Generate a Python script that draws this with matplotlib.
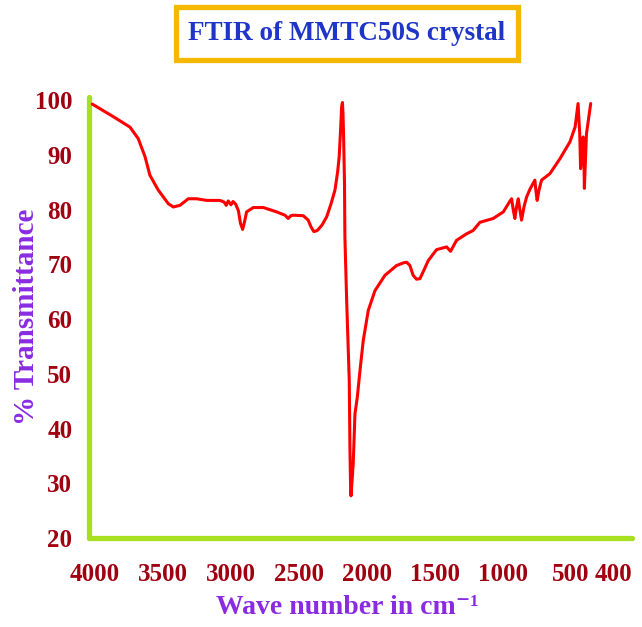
import numpy as np
import matplotlib
matplotlib.use("Agg")
import matplotlib.pyplot as plt
from matplotlib.scale import FuncScale
from matplotlib.patches import Rectangle

# ---- data ----
wavenumber = [4020, 3865, 3743, 3682, 3632, 3596, 3535, 3461, 3424, 3375, 3314, 3252,
              3179, 3081, 3050, 3035, 3020, 3000, 2985, 2965, 2945, 2930, 2914, 2900,
              2885, 2836, 2762, 2664, 2603, 2579, 2560, 2542, 2468, 2432, 2410, 2390,
              2365, 2330, 2296, 2265, 2235, 2215, 2204, 2193, 2186, 2180, 2176, 2172,
              2165, 2162, 2149, 2130, 2125, 2120, 2117, 2112, 2101, 2088, 2071, 2051,
              2027, 1990, 1941, 1868, 1782, 1730, 1708, 1684, 1660, 1635, 1610, 1580,
              1549, 1488, 1414, 1385, 1341, 1267, 1219, 1169, 1071, 997, 950, 936,
              924, 912, 900, 887, 875, 863, 845, 826, 800, 765, 755, 748, 735, 716,
              654, 581, 507, 490, 483, 479, 477, 474, 471, 469, 468, 465, 463, 453]
transmittance = [99.3, 97.0, 95.1, 93.0, 89.7, 86.3, 83.6, 81.1, 80.5, 80.8, 82.0, 82.0,
                 81.7, 81.7, 81.4, 80.8, 81.6, 80.9, 81.5, 81.0, 79.8, 77.5, 76.4, 77.8,
                 79.6, 80.4, 80.4, 79.6, 79.0, 78.4, 78.9, 79.0, 78.9, 78.1, 76.8, 76.0,
                 76.2, 77.2, 78.7, 81.0, 83.6, 87.0, 89.7, 95.0, 98.8, 99.6, 97.5, 93.9,
                 85.0, 75.0, 63.4, 48.8, 36.5, 29.0, 27.7, 29.5, 33.5, 42.7, 45.7, 50.6,
                 56.1, 61.6, 65.2, 68.0, 69.8, 70.3, 70.4, 69.8, 68.0, 67.3, 67.4, 69.0,
                 70.7, 72.7, 73.2, 72.4, 74.4, 75.6, 76.2, 77.7, 78.4, 79.6, 81.5, 82.0,
                 80.0, 78.4, 80.5, 82.0, 80.0, 78.1, 80.5, 82.3, 83.8, 85.4, 83.0, 81.7,
                 83.5, 85.4, 86.6, 89.3, 92.4, 95.1, 99.4, 93.9, 87.5, 90.0, 93.3, 89.0,
                 83.9, 90.0, 93.9, 99.4]
x_ticks = [4000, 3500, 3000, 2500, 2000, 1500, 1000, 500, 400]
y_ticks = [20, 30, 40, 50, 60, 70, 80, 90, 100]

title_text = "FTIR of MMTC50S crystal"
x_label = "Wave number in cm\u207b\u00b9"
y_label = "% Transmittance"

# ---- axis with stretched low-wavenumber end (as in the reference) ----
STRETCH = 3.1

def fwd(x):
    x = np.asarray(x, dtype=float)
    return np.where(x >= 500, x, 500 - (500 - x) * STRETCH)

def inv(u):
    u = np.asarray(u, dtype=float)
    return np.where(u >= 500, u, 500 - (500 - u) / STRETCH)

serif = ['Liberation Serif', 'DejaVu Serif']

fig = plt.figure(figsize=(6.42, 6.27), dpi=100)
ax = fig.add_axes([89 / 642, 1 - 538 / 627, 543 / 642, 441 / 627])

ax.set_xscale(FuncScale(ax.xaxis, (fwd, inv)))
ax.plot(wavenumber, transmittance, color='#FF0000', linewidth=2.2,
        solid_joinstyle='round', solid_capstyle='round', zorder=3)

ax.set_xlim(4044, 355)
ax.set_ylim(20, 100.6)

ax.set_xticks(x_ticks)
ax.set_xticklabels([str(t) for t in x_ticks])
ax.set_yticks(y_ticks)
ax.set_yticklabels([str(t) for t in y_ticks])
ax.minorticks_off()

tick_color = '#A00010'
for lab in ax.get_xticklabels() + ax.get_yticklabels():
    lab.set_fontfamily(serif)
    lab.set_fontweight('bold')
    lab.set_fontsize(18)
    lab.set_color(tick_color)
ax.tick_params(axis='both', length=0)
ax.tick_params(axis='x', pad=18)
ax.tick_params(axis='y', pad=12)

for side in ('top', 'right'):
    ax.spines[side].set_visible(False)
for side in ('left', 'bottom'):
    ax.spines[side].set_color('#A8E020')
    ax.spines[side].set_linewidth(3.8)
    ax.spines[side].set_capstyle('round')

lab_color = '#8A2BE2'
ax.set_xlabel(x_label, fontfamily=serif, fontweight='bold', fontsize=20,
              color=lab_color)
ax.xaxis.set_label_coords((347 - 89) / 543, (538 - 607) / 441)
ax.xaxis.label.set_verticalalignment('center')
ax.set_ylabel(y_label, fontfamily=serif, fontweight='bold', fontsize=21,
              color=lab_color)
ax.yaxis.set_label_coords((27 - 89) / 543, (538 - 317) / 441)
ax.yaxis.label.set_verticalalignment('center')

# title box
fig.patches.append(Rectangle((176 / 642, 1 - 59.5 / 627), 342 / 642, 52 / 627,
                             transform=fig.transFigure, facecolor='white',
                             edgecolor='#F5B800', linewidth=3.8, zorder=1))
fig.text(347 / 642, 1 - 34 / 627, title_text, ha='center', va='center',
         fontfamily=serif, fontweight='bold', fontsize=19.5, color='#1F35C8',
         zorder=2)

fig.savefig('out.png', dpi=100, facecolor='white')
